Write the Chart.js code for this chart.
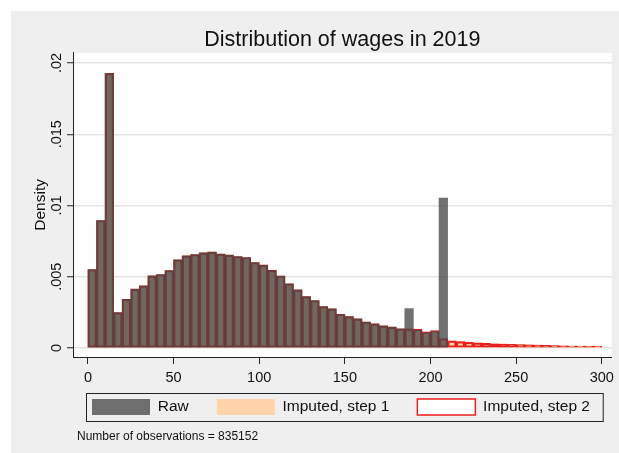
<!DOCTYPE html>
<html>
<head>
<meta charset="utf-8">
<title>Distribution of wages in 2019</title>
<script src="https://cdn.jsdelivr.net/npm/chart.js@4.4.1/dist/chart.umd.min.js"></script>
<style>
  html, body { margin: 0; padding: 0; background: #fff; }
  canvas { display: block; }
</style>
</head>
<body>
<canvas id="wageChart" width="619" height="453"></canvas>
<script>
// histogram bins, width 5
const binWidth = 5;
const binStarts = [
  0, 5, 10, 15, 20, 25, 30, 35, 40, 45,
  50, 55, 60, 65, 70, 75, 80, 85, 90, 95,
  100, 105, 110, 115, 120, 125, 130, 135, 140, 145,
  150, 155, 160, 165, 170, 175, 180, 185, 190, 195,
  200, 205, 210, 215, 220, 225, 230, 235, 240, 245,
  250, 255, 260, 265, 270, 275, 280, 285, 290, 295
];

// raw wages stop at 210 (top-coded spike in the last bin)
const rawDensity = [
  0.00551, 0.00895, 0.01927, 0.00248, 0.00342, 0.00413, 0.00436, 0.00506, 0.00516, 0.00544,
  0.00619, 0.00647, 0.00656, 0.00668, 0.00673, 0.00659, 0.00652, 0.00642, 0.00635, 0.00600,
  0.00582, 0.00545, 0.00505, 0.00451, 0.00408, 0.00361, 0.00333, 0.00291, 0.00275, 0.00237,
  0.00221, 0.00204, 0.00181, 0.00169, 0.00155, 0.00146, 0.00134, 0.00276, 0.00125, 0.00106,
  0.00116, 0.01052
];

const step1Density = [
  0.00551, 0.00895, 0.01927, 0.00248, 0.00342, 0.00413, 0.00436, 0.00506, 0.00516, 0.00544,
  0.00619, 0.00647, 0.00656, 0.00668, 0.00673, 0.00659, 0.00652, 0.00642, 0.00635, 0.00600,
  0.00582, 0.00545, 0.00505, 0.00451, 0.00408, 0.00361, 0.00333, 0.00291, 0.00275, 0.00237,
  0.00221, 0.00204, 0.00181, 0.00169, 0.00155, 0.00146, 0.00134, 0.00134, 0.00125, 0.00106,
  0.00116, 0.00063, 0.00050, 0.00045, 0.00040, 0.00036, 0.00033, 0.00030, 0.00028, 0.00026,
  0.00024, 0.00022, 0.00020, 0.00019, 0.00017, 0.00016, 0.00014, 0.00013, 0.00012, 0.00011
];

const step2Density = [
  0.00551, 0.00895, 0.01927, 0.00248, 0.00342, 0.00413, 0.00436, 0.00506, 0.00516, 0.00544,
  0.00619, 0.00647, 0.00656, 0.00668, 0.00673, 0.00659, 0.00652, 0.00642, 0.00635, 0.00600,
  0.00582, 0.00545, 0.00505, 0.00451, 0.00408, 0.00361, 0.00333, 0.00291, 0.00275, 0.00237,
  0.00221, 0.00204, 0.00181, 0.00169, 0.00155, 0.00146, 0.00134, 0.00134, 0.00132, 0.00113,
  0.00123, 0.00066, 0.00050, 0.00045, 0.00040, 0.00036, 0.00033, 0.00030, 0.00028, 0.00026,
  0.00024, 0.00022, 0.00020, 0.00019, 0.00017, 0.00016, 0.00014, 0.00013, 0.00012, 0.00011
];

const xTickValues = [0, 50, 100, 150, 200, 250, 300];
const yTickValues = [0, 0.005, 0.01, 0.015, 0.02];
const yTickLabels = ['0', '.005', '.01', '.015', '.02'];
const noteText = 'Number of observations = 835152';

const toPoints = (vals) => vals.map((v, i) => ({ x: binStarts[i] + binWidth / 2, y: v }));

Chart.defaults.font.family = "'Liberation Sans', Arial, sans-serif";
Chart.defaults.color = '#111';

const legendPad = 28;

const stataFrame = {
  id: 'stataFrame',
  afterLayout(chart) {
    // move the legend so the first key starts at x=92 and keys top at y=399
    const lg = chart.legend;
    const dy = lg.top - (399 - legendPad);
    lg.top -= dy; lg.bottom -= dy;
    const start = (lg.left + legendPad + lg.right - lg.lineWidths[0]) / 2;
    const dx = 92 - start;
    lg.left += dx; lg.right += dx;
  },
  beforeDraw(chart) {
    const { ctx, chartArea: a } = chart;
    ctx.save();
    ctx.fillStyle = '#fff';
    ctx.fillRect(0, 0, chart.width, chart.height);
    ctx.fillStyle = '#efefef';
    ctx.fillRect(11, 11, chart.width - 11, chart.height - 11);
    ctx.fillStyle = '#fff';
    ctx.fillRect(a.left, a.top, a.right - a.left, a.bottom - a.top);
    ctx.restore();
  },
  afterDraw(chart) {
    const { ctx, chartArea: a } = chart;
    ctx.save();
    // box round the legend
    ctx.strokeStyle = '#222';
    ctx.lineWidth = 1;
    ctx.strokeRect(a.left + 13.5, 393.5, (a.right - 9) - (a.left + 13), 28);
    // note under the legend
    ctx.fillStyle = '#111';
    ctx.font = "12px 'Liberation Sans', Arial, sans-serif";
    ctx.textBaseline = 'middle';
    ctx.fillText(noteText, 77, 437);
    ctx.restore();
  }
};

new Chart(document.getElementById('wageChart'), {
  type: 'bar',
  data: {
    datasets: [
      {
        label: 'Raw',
        data: toPoints(rawDensity),
        backgroundColor: 'rgba(70,70,70,0.77)',
        borderWidth: 0,
        grouped: false,
        barPercentage: 1,
        categoryPercentage: 1,
        order: 0
      },
      {
        label: 'Imputed, step 1',
        data: toPoints(step1Density),
        backgroundColor: 'rgb(255,212,168)',
        borderWidth: 0,
        grouped: false,
        barPercentage: 1,
        categoryPercentage: 1,
        order: 2
      },
      {
        label: 'Imputed, step 2',
        data: toPoints(step2Density),
        backgroundColor: 'rgba(0,0,0,0)',
        borderColor: 'rgb(235,30,30)',
        borderWidth: 1.5,
        borderSkipped: false,
        grouped: false,
        barPercentage: 1,
        categoryPercentage: 1,
        order: 1
      }
    ]
  },
  options: {
    responsive: false,
    animation: false,
    devicePixelRatio: 1,
    layout: { padding: { left: 11, top: 11, right: 5, bottom: 12 } },
    scales: {
      x: {
        type: 'linear',
        min: -8.72,
        max: 305.81,
        offset: false,
        afterBuildTicks: (s) => { s.ticks = xTickValues.map(v => ({ value: v })); },
        afterFit: (s) => { s.height = 30; },
        grid: { drawOnChartArea: false, offset: false, color: '#222', tickLength: 7 },
        border: { color: '#222', width: 1 },
        ticks: { font: { size: 14.5 }, color: '#111', padding: 5, maxRotation: 0, autoSkip: false }
      },
      y: {
        min: -0.000632,
        max: 0.020716,
        afterBuildTicks: (s) => { s.ticks = yTickValues.map(v => ({ value: v })); },
        afterFit: (s) => { s.width = 62; },
        grid: { color: '#e4e4e4', lineWidth: 1.5, tickColor: '#222', tickWidth: 1, tickLength: 6 },
        border: { color: '#222', width: 1 },
        ticks: {
          font: { size: 14.5 },
          color: '#111',
          minRotation: 90,
          maxRotation: 90,
          crossAlign: 'center',
          padding: -4,
          callback: (v) => yTickLabels[yTickValues.indexOf(v)]
        },
        title: { display: true, text: 'Density', font: { size: 15.5 }, color: '#111', padding: { top: 20, bottom: 0 } }
      }
    },
    plugins: {
      tooltip: { enabled: false },
      title: {
        display: true,
        text: 'Distribution of wages in 2019',
        fullSize: false,
        font: { size: 21.5, weight: 'normal' },
        color: '#111',
        padding: { top: 16, bottom: 0 }
      },
      legend: {
        position: 'bottom',
        fullSize: true,
        labels: {
          font: { size: 15.5 },
          color: '#111',
          boxWidth: 58,
          boxHeight: 16,
          padding: legendPad,
          sort: (a, b) => a.datasetIndex - b.datasetIndex,
          generateLabels: (chart) => Chart.defaults.plugins.legend.labels.generateLabels(chart).map(item => {
            if (item.datasetIndex === 2) item.fillStyle = '#fff';
            return item;
          })
        }
      }
    }
  },
  plugins: [stataFrame]
});
</script>
</body>
</html>
